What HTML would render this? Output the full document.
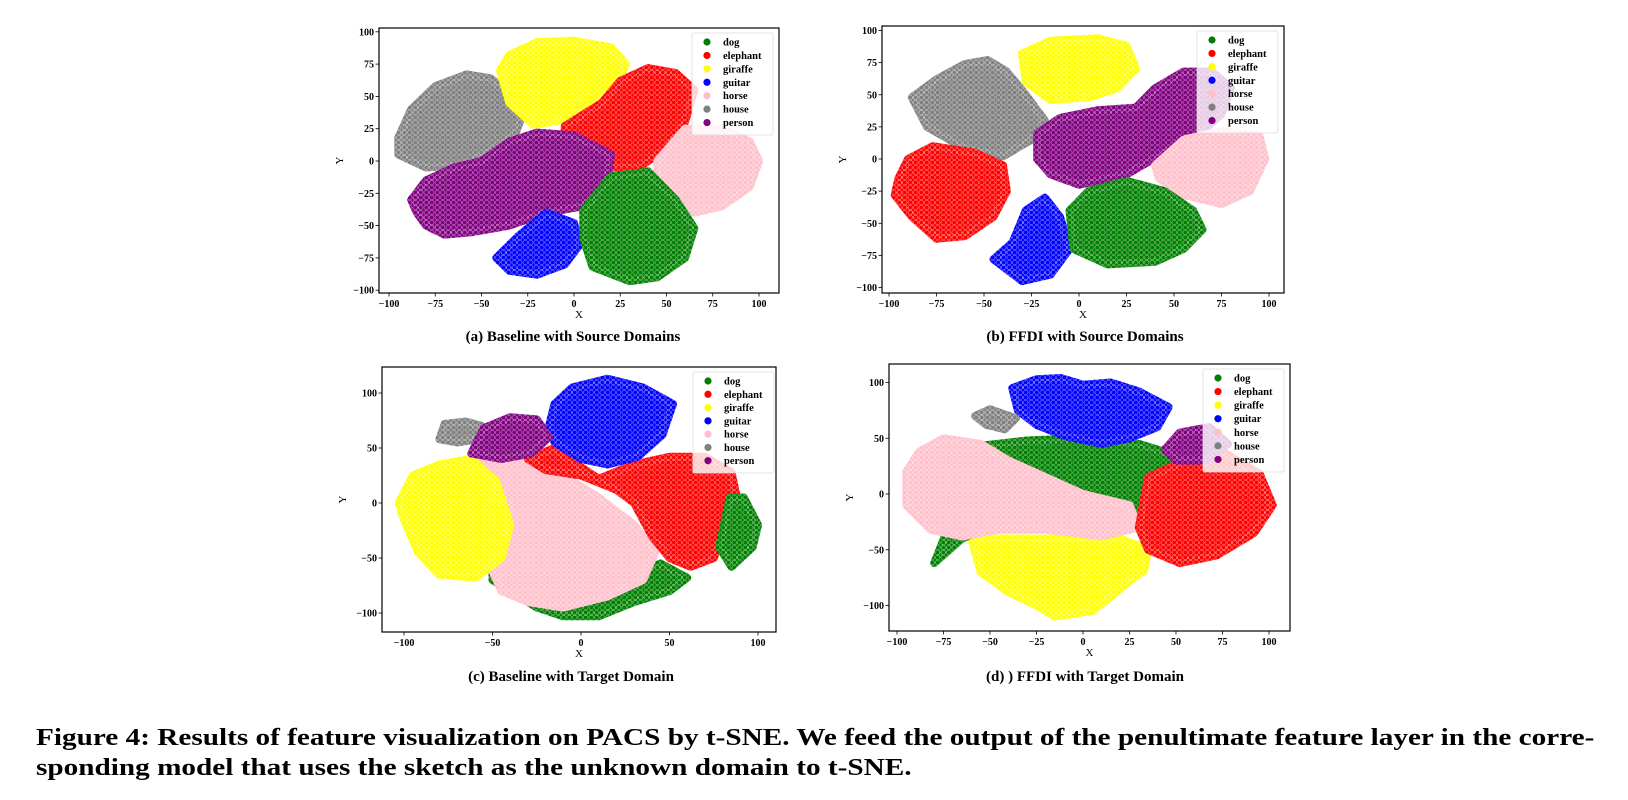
<!DOCTYPE html>
<html><head><meta charset="utf-8">
<style>
html,body{margin:0;padding:0;background:#fff;}
body{width:1628px;height:800px;position:relative;overflow:hidden;font-family:"Liberation Serif",serif;}
svg{position:absolute;left:0;top:0;}
.cap{position:absolute;font-weight:bold;font-size:15px;transform:translateX(-50%);white-space:nowrap;}
.fig{position:absolute;left:36px;font-weight:bold;font-size:24px;white-space:nowrap;transform:scaleX(1.218);transform-origin:0 0;}
</style></head>
<body>
<svg id="chart" width="1628" height="800">
<defs>
<pattern id="dots" width="5.5" height="5" patternUnits="userSpaceOnUse">
<circle cx="2.75" cy="2.5" r="2.3" fill="none" stroke="#fff" stroke-width="0.45"/>
</pattern>
</defs>
</svg>
<div class="cap" style="left:573px;top:329px">(a) Baseline with Source Domains</div>
<div class="cap" style="left:1085px;top:329px">(b) FFDI with Source Domains</div>
<div class="cap" style="left:571px;top:669px">(c) Baseline with Target Domain</div>
<div class="cap" style="left:1085px;top:669px">(d) ) FFDI with Target Domain</div>
<div class="fig" style="top:725px">Figure 4: Results of feature visualization on PACS by t-SNE. We feed the output of the penultimate feature layer in the corre-</div>
<div class="fig" style="top:755px">sponding model that uses the sketch as the unknown domain to t-SNE.</div>
<script>
const classes = ['dog','elephant','giraffe','guitar','horse','house','person'];
const classColors = ['#008000','#ff0000','#ffff00','#0000ff','#ffc0cb','#808080','#800080'];
const xTicksA = [-100,-75,-50,-25,0,25,50,75,100];
const yTicksA = [-100,-75,-50,-25,0,25,50,75,100];
const xTicksC = [-100,-50,0,50,100];
const yTicksC = [-100,-50,0,50,100];
const xTicksD = [-100,-75,-50,-25,0,25,50,75,100];
const yTicksD = [-100,-50,0,50,100];

// cluster outlines in data coordinates (class, outline points)
const clustersA = [
 ['house',[[-95,18],[-88,40],[-75,58],[-58,67],[-45,64],[-35,52],[-28,35],[-32,20],[-45,8],[-60,-3],[-80,-5],[-95,5]]],
 ['giraffe',[[-35,82],[-20,92],[0,93],[20,88],[28,75],[22,55],[10,42],[-5,32],[-22,28],[-35,45],[-40,70]]],
 ['elephant',[[-5,27],[15,45],[25,62],[40,72],[55,68],[65,55],[60,30],[50,10],[35,-5],[20,-5],[5,5],[-5,17]]],
 ['horse',[[45,0],[60,25],[80,25],[95,15],[100,0],[95,-20],[80,-35],[65,-40],[50,-25],[45,-10]]],
 ['person',[[-85,-40],[-88,-30],[-80,-15],[-65,-5],[-50,0],[-35,15],[-20,22],[0,20],[20,5],[18,-15],[5,-35],[-15,-40],[-35,-50],[-55,-55],[-70,-57],[-80,-50]]],
 ['guitar',[[-30,-58],[-15,-40],[0,-48],[3,-65],[-5,-80],[-20,-88],[-35,-85],[-42,-75]]],
 ['dog',[[5,-38],[20,-12],[40,-8],[55,-30],[65,-52],[60,-75],[45,-90],[30,-93],[10,-82],[5,-60]]]
];
const clustersB = [
 ['giraffe',[[-30,82],[-15,92],[10,94],[25,88],[30,70],[20,55],[5,48],[-15,46],[-28,60]]],
 ['house',[[-88,48],[-75,62],[-60,74],[-48,77],[-38,68],[-28,50],[-18,30],[-25,15],[-40,2],[-60,8],[-80,25]]],
 ['person',[[-22,20],[-10,32],[10,38],[30,40],[40,55],[55,68],[70,68],[80,55],[75,35],[60,15],[45,5],[25,-12],[0,-20],[-15,-12],[-22,0]]],
 ['horse',[[40,-5],[55,15],[75,22],[95,18],[98,0],[90,-25],[75,-35],[55,-28],[42,-15]]],
 ['elephant',[[-95,-15],[-90,0],[-77,10],[-55,5],[-40,-5],[-38,-25],[-45,-45],[-60,-60],[-75,-62],[-88,-45],[-97,-28]]],
 ['guitar',[[-35,-65],[-28,-40],[-18,-30],[-10,-45],[-5,-70],[-15,-90],[-30,-95],[-45,-78]]],
 ['dog',[[-5,-40],[5,-25],[25,-17],[45,-25],[60,-40],[65,-55],[55,-70],[40,-80],[15,-82],[-3,-70]]]
];
const clustersC = [
 ['dog',[[-50,-50],[-25,-75],[0,-70],[30,-65],[45,-55],[60,-68],[50,-80],[30,-90],[10,-103],[-10,-103],[-25,-95],[-50,-70]]],
 ['horse',[[-62,45],[-45,52],[-25,40],[-5,20],[10,5],[30,-20],[42,-45],[35,-70],[15,-85],[-10,-95],[-30,-90],[-45,-80],[-52,-55],[-42,-20],[-40,0],[-55,20]]],
 ['giraffe',[[-103,0],[-95,25],[-80,35],[-62,40],[-48,20],[-40,-20],[-45,-50],[-60,-68],[-80,-65],[-92,-45],[-100,-15]]],
 ['elephant',[[-30,40],[-15,50],[-5,38],[10,22],[30,35],[50,42],[70,42],[85,28],[88,5],[82,-20],[75,-50],[62,-58],[50,-50],[40,-30],[30,0],[20,12],[0,25],[-20,30]]],
 ['dog',[[78,-40],[84,5],[92,5],[100,-20],[97,-40],[85,-58]]],
 ['guitar',[[-18,70],[-15,90],[-5,105],[15,113],[35,105],[52,90],[46,62],[32,42],[15,35],[0,40],[-15,55]]],
 ['house',[[-80,58],[-77,72],[-65,74],[-56,70],[-58,58],[-70,55]]],
 ['person',[[-62,45],[-55,68],[-40,78],[-25,76],[-18,60],[-28,45],[-45,40]]]
];
const clustersD = [
 ['giraffe',[[-60,-40],[-55,-70],[-40,-88],[-25,-100],[-15,-110],[5,-105],[20,-85],[33,-68],[35,-50],[20,-40],[0,-40],[-30,-40]]],
 ['dog',[[-62,42],[-30,48],[0,50],[30,45],[55,32],[80,28],[95,5],[82,-8],[50,-8],[30,-22],[10,-35],[-10,-28],[-40,-22],[-65,-40],[-80,-62],[-70,-20]]],
 ['horse',[[-95,-10],[-95,20],[-88,38],[-75,50],[-55,45],[-40,30],[-20,15],[0,0],[25,-10],[30,-30],[10,-38],[-20,-32],[-45,-32],[-65,-38],[-82,-32]]],
 ['elephant',[[30,-30],[35,15],[55,30],[75,38],[95,18],[102,-10],[92,-35],[72,-55],[52,-62],[35,-50]]],
 ['person',[[44,40],[52,55],[68,60],[78,45],[66,30],[50,30]]],
 ['guitar',[[-38,95],[-25,103],[-12,104],[0,98],[15,100],[30,92],[46,78],[40,60],[25,50],[10,45],[-10,52],[-25,62],[-35,75]]],
 ['house',[[-58,70],[-50,76],[-36,68],[-42,58],[-52,62]]]
];

const panels = [
 {id:'a', clusters:clustersA, box:[379,28,779,293], x0:574, xs:1.85, y0:161, ys:1.292, xt:xTicksA, yt:yTicksA, leg:[692,33,773,135]},
 {id:'b', clusters:clustersB, box:[882,26,1284,293], x0:1079, xs:1.90, y0:159, ys:1.285, xt:xTicksA, yt:yTicksA, leg:[1197,31,1278,133]},
 {id:'c', clusters:clustersC, box:[382,367,776,632], x0:581, xs:1.77, y0:503, ys:1.10, xt:xTicksC, yt:yTicksC, leg:[693,372,774,473]},
 {id:'d', clusters:clustersD, box:[889,364,1290,631], x0:1083, xs:1.86, y0:494, ys:1.115, xt:xTicksD, yt:yTicksD, leg:[1203,369,1284,472]}
];

const svg = document.getElementById('chart');
const NS = 'http://www.w3.org/2000/svg';
function mk(tag, attrs, parent){
  const e = document.createElementNS(NS, tag);
  for (const k in attrs) e.setAttribute(k, attrs[k]);
  (parent||svg).appendChild(e);
  return e;
}

panels.forEach(p => {
  const g = mk('g', {});
  
  
  const sx = v => p.x0 + p.xs * v;
  const sy = v => p.y0 - p.ys * v;
  const [L,T,R,B] = p.box;
  const clipId = 'clip-' + p.id;
  const cp = mk('clipPath', {id: clipId}, g);
  mk('rect', {x:L, y:T, width:R-L, height:B-T}, cp);
  const cg = mk('g', {'clip-path':'url(#'+clipId+')'}, g);
  p.clusters.forEach(c => {
    const ci = classes.indexOf(c[0]);
    const pts = c[1].map(q => sx(q[0]).toFixed(1) + ',' + sy(q[1]).toFixed(1)).join(' ');
    const poly = mk('polygon', {points: pts, fill: classColors[ci], stroke: classColors[ci], 'stroke-width': 8, 'stroke-linejoin':'round'}, cg);
    
    
    const tex = mk('polygon', {points: pts, fill: 'url(#dots)', stroke:'url(#dots)', 'stroke-width':8, 'stroke-linejoin':'round', opacity: 0.7}, cg);
    
    
  });
  const frame = mk('rect', {x:L, y:T, width:R-L, height:B-T, fill:'none', stroke:'#000', 'stroke-width':1.2}, g);
  
  
  p.xt.forEach(t => {
    const x = sx(t);
    mk('line', {x1:x, y1:B, x2:x, y2:B+3.5, stroke:'#000', 'stroke-width':0.8}, g);
    const tx = mk('text', {x:x, y:B+14, 'text-anchor':'middle', 'font-size':10, 'font-weight':'bold', 'font-family':'Liberation Serif, serif'}, g);
    tx.textContent = (t < 0 ? '\u2212' + Math.abs(t) : String(t));
    
    
  });
  p.yt.forEach(t => {
    const y = sy(t);
    mk('line', {x1:L-3.5, y1:y, x2:L, y2:y, stroke:'#000', 'stroke-width':0.8}, g);
    const tx = mk('text', {x:L-5, y:y+3.5, 'text-anchor':'end', 'font-size':10, 'font-weight':'bold', 'font-family':'Liberation Serif, serif'}, g);
    tx.textContent = (t < 0 ? '\u2212' + Math.abs(t) : String(t));
    
    
  });
  const xl = mk('text', {x:(L+R)/2, y:B+25, 'text-anchor':'middle', 'font-size':11, 'font-family':'Liberation Serif, serif'}, g);
  xl.textContent = 'X';
  
  
  const yx = L - 36, yy = (T+B)/2;
  const yl = mk('text', {x:yx, y:yy, 'text-anchor':'middle', 'font-size':11, 'font-family':'Liberation Serif, serif', transform:'rotate(-90 '+yx+' '+yy+')'}, g);
  yl.textContent = 'Y';
  
  
  // legend
  const [lL,lT,lR,lB] = p.leg;
  const lg = mk('g', {}, g);
  
  
  mk('rect', {x:lL, y:lT, width:lR-lL, height:lB-lT, rx:2, fill:'#fff', 'fill-opacity':0.8, stroke:'#ddd', 'stroke-width':0.8}, lg);
  const step = (lB-lT-8)/classes.length;
  classes.forEach((name, i) => {
    const cy = lT + 9 + step*i;
    const m = mk('circle', {cx:lL+15, cy:cy, r:3.6, fill:classColors[i]}, lg);
    
    
    const t = mk('text', {x:lL+31, y:cy+3.5, 'font-size':10.5, 'font-weight':'bold', 'font-family':'Liberation Serif, serif'}, lg);
    t.textContent = name;
    
    
  });
});
</script>
</body></html>
